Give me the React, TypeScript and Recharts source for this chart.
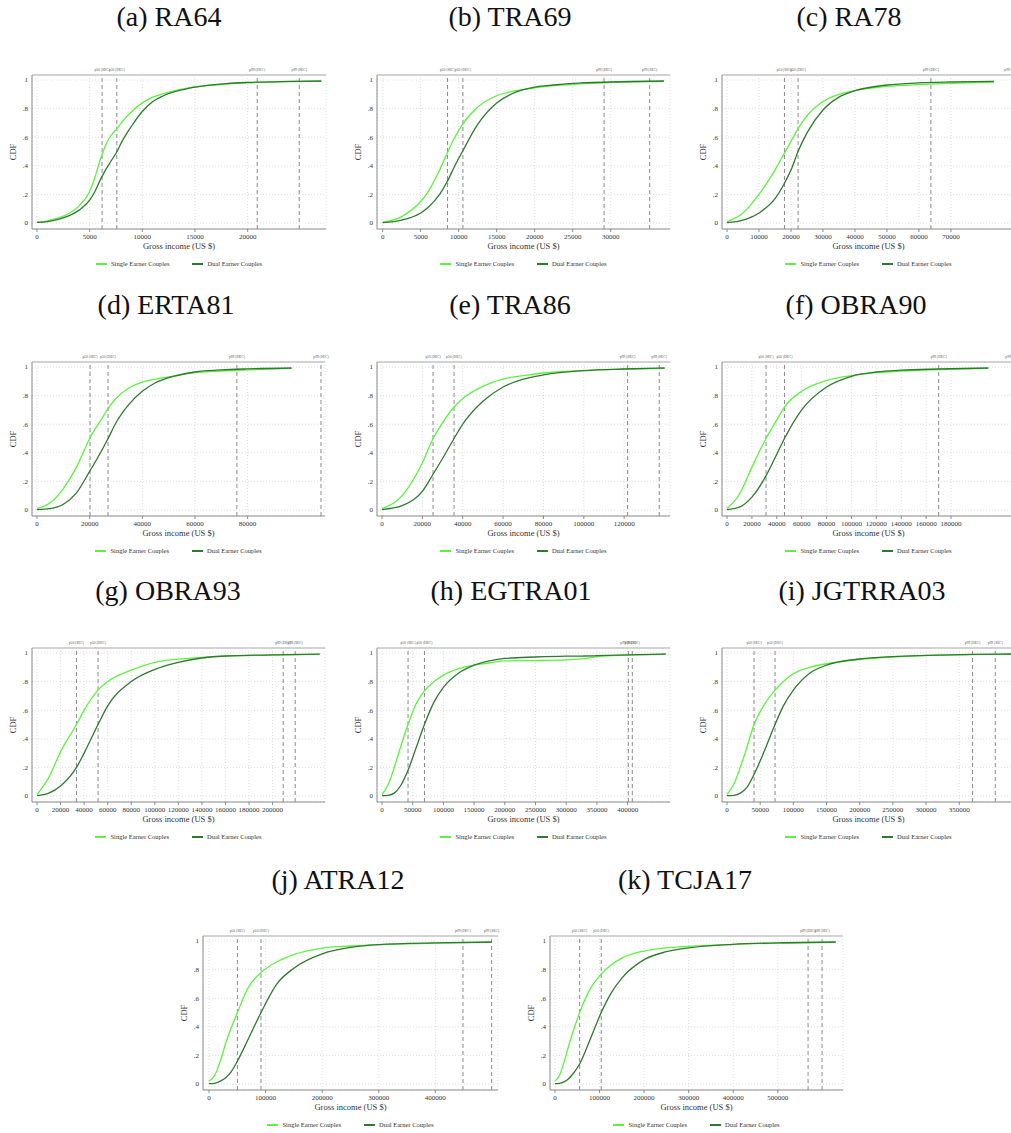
import React from 'react';
import { LineChart, Line, XAxis, YAxis, CartesianGrid, ReferenceLine } from 'recharts';

const cdfTicks = [0, 0.2, 0.4, 0.6, 0.8, 1];
const cdfTickLabels = ['0', '.2', '.4', '.6', '.8', '1'];
const refLabels = ['p50 (SEC)', 'p50 (DEC)', 'p99 (DEC)', 'p99 (SEC)'];
const seriesNames = ['Single Earner Couples', 'Dual Earner Couples'];

// (a) RA64
const ra64Income = [0, 1000, 2000, 3000, 4000, 5000, 5500, 6000, 6500, 7000, 7600, 8000, 9000, 10000, 11000, 12000, 14000, 16000, 18000, 20000, 24000, 27000];
const ra64Single = [0.005, 0.015, 0.035, 0.065, 0.12, 0.22, 0.32, 0.44, 0.54, 0.61, 0.66, 0.7, 0.78, 0.84, 0.88, 0.905, 0.94, 0.96, 0.972, 0.98, 0.988, 0.99];
const ra64Dual = [0.005, 0.01, 0.025, 0.05, 0.09, 0.16, 0.22, 0.3, 0.37, 0.43, 0.5, 0.56, 0.68, 0.78, 0.85, 0.89, 0.935, 0.96, 0.975, 0.983, 0.99, 0.993];
const ra64Ticks = [0, 5000, 10000, 15000, 20000];
const ra64Refs = [6180, 7580, 20910, 24900];

// (b) TRA69
const tra69Income = [0, 2500, 5000, 6000, 7500, 8500, 9500, 10500, 12500, 15000, 17500, 20000, 22500, 25000, 30000, 37000];
const tra69Single = [0.005, 0.045, 0.15, 0.22, 0.37, 0.49, 0.6, 0.69, 0.81, 0.89, 0.925, 0.945, 0.96, 0.97, 0.982, 0.99];
const tra69Dual = [0.003, 0.02, 0.07, 0.11, 0.2, 0.29, 0.4, 0.5, 0.69, 0.84, 0.915, 0.95, 0.965, 0.976, 0.986, 0.993];
const tra69Ticks = [0, 5000, 10000, 15000, 20000, 25000, 30000];
const tra69Refs = [8540, 10560, 29130, 35130];

// (c) RA78
const ra78Income = [0, 5000, 10000, 15000, 18000, 20000, 22200, 25000, 30000, 35000, 40000, 50000, 60000, 70000, 83500];
const ra78Single = [0.01, 0.07, 0.2, 0.37, 0.49, 0.57, 0.66, 0.75, 0.85, 0.9, 0.925, 0.955, 0.968, 0.976, 0.985];
const ra78Dual = [0.003, 0.02, 0.07, 0.17, 0.28, 0.37, 0.5, 0.63, 0.79, 0.88, 0.925, 0.965, 0.98, 0.986, 0.99];
const ra78Ticks = [0, 10000, 20000, 30000, 40000, 50000, 60000, 70000];
const ra78Refs = [17960, 22220, 63730, 89080];

// (d) ERTA81
const erta81Income = [0, 5000, 10000, 15000, 20000, 25000, 27000, 30000, 35000, 40000, 45000, 50000, 60000, 70000, 80000, 96700];
const erta81Single = [0.01, 0.05, 0.15, 0.3, 0.5, 0.65, 0.71, 0.78, 0.855, 0.895, 0.915, 0.93, 0.96, 0.972, 0.98, 0.99];
const erta81Dual = [0.003, 0.01, 0.04, 0.12, 0.27, 0.43, 0.5, 0.61, 0.74, 0.83, 0.89, 0.925, 0.965, 0.98, 0.987, 0.993];
const erta81Ticks = [0, 20000, 40000, 60000, 80000];
const erta81Refs = [20150, 26990, 75930, 107870];

// (e) TRA86
const tra86Income = [0, 10000, 20000, 25300, 30000, 35700, 40000, 50000, 60000, 70000, 80000, 100000, 120000, 140000];
const tra86Single = [0.01, 0.1, 0.33, 0.5, 0.61, 0.72, 0.78, 0.865, 0.915, 0.94, 0.958, 0.975, 0.985, 0.99];
const tra86Dual = [0.003, 0.03, 0.13, 0.25, 0.36, 0.5, 0.6, 0.76, 0.86, 0.915, 0.945, 0.975, 0.986, 0.993];
const tra86Ticks = [0, 20000, 40000, 60000, 80000, 100000, 120000];
const tra86Refs = [25290, 35700, 121700, 137370];

// (f) OBRA90
const obra90Income = [0, 10000, 20000, 31400, 40000, 46200, 60000, 80000, 100000, 120000, 140000, 170000, 210000];
const obra90Single = [0.01, 0.11, 0.3, 0.5, 0.63, 0.72, 0.83, 0.905, 0.94, 0.96, 0.972, 0.982, 0.99];
const obra90Dual = [0.003, 0.02, 0.09, 0.24, 0.39, 0.5, 0.7, 0.86, 0.935, 0.965, 0.978, 0.986, 0.993];
const obra90Ticks = [0, 20000, 40000, 60000, 80000, 100000, 120000, 140000, 160000, 180000];
const obra90Refs = [31370, 46170, 170060, 229800];

// (g) OBRA93
const obra93Income = [0, 10000, 20000, 33500, 40000, 51800, 60000, 80000, 100000, 120000, 140000, 160000, 200000, 240000];
const obra93Single = [0.01, 0.13, 0.31, 0.5, 0.6, 0.74, 0.8, 0.88, 0.935, 0.957, 0.97, 0.978, 0.985, 0.99];
const obra93Dual = [0.003, 0.02, 0.07, 0.2, 0.3, 0.5, 0.63, 0.8, 0.885, 0.935, 0.965, 0.979, 0.987, 0.993];
const obra93Ticks = [0, 20000, 40000, 60000, 80000, 100000, 120000, 140000, 160000, 180000, 200000];
const obra93Refs = [33470, 51830, 209000, 219200];

// (h) EGTRA01
const egtra01Income = [0, 10000, 20000, 30000, 42400, 55000, 69100, 85000, 100000, 125000, 150000, 175000, 200000, 250000, 300000, 330000, 350000, 400000, 462000];
const egtra01Single = [0.01, 0.08, 0.2, 0.34, 0.5, 0.64, 0.735, 0.8, 0.845, 0.89, 0.915, 0.93, 0.945, 0.947, 0.952, 0.96, 0.975, 0.985, 0.99];
const egtra01Dual = [0.003, 0.005, 0.02, 0.07, 0.18, 0.33, 0.5, 0.66, 0.76, 0.86, 0.915, 0.945, 0.962, 0.972, 0.978, 0.979, 0.981, 0.987, 0.993];
const egtra01Ticks = [0, 50000, 100000, 150000, 200000, 250000, 300000, 350000, 400000];
const egtra01Refs = [42390, 69130, 401100, 407600];

// (i) JGTRRA03
const jgtrra03Income = [0, 10000, 20000, 30000, 40700, 55000, 72400, 85000, 100000, 125000, 150000, 200000, 250000, 300000, 370000, 430000];
const jgtrra03Single = [0.01, 0.08, 0.2, 0.34, 0.5, 0.63, 0.74, 0.8, 0.855, 0.9, 0.925, 0.955, 0.972, 0.982, 0.988, 0.992];
const jgtrra03Dual = [0.003, 0.005, 0.02, 0.06, 0.15, 0.3, 0.5, 0.63, 0.74, 0.86, 0.915, 0.958, 0.975, 0.983, 0.99, 0.993];
const jgtrra03Ticks = [0, 50000, 100000, 150000, 200000, 250000, 300000, 350000];
const jgtrra03Refs = [40730, 72420, 370200, 404400];

// (j) ATRA12
const atra12Income = [0, 10000, 20000, 30000, 40000, 50200, 70000, 91900, 120000, 150000, 200000, 250000, 300000, 400000, 500000];
const atra12Single = [0.02, 0.06, 0.16, 0.29, 0.4, 0.5, 0.68, 0.78, 0.855, 0.905, 0.95, 0.965, 0.975, 0.985, 0.99];
const atra12Dual = [0.003, 0.005, 0.02, 0.045, 0.09, 0.16, 0.32, 0.5, 0.7, 0.81, 0.91, 0.955, 0.975, 0.987, 0.993];
const atra12Ticks = [0, 100000, 200000, 300000, 400000];
const atra12Refs = [50180, 91870, 448800, 499500];

// (k) TCJA17
const tcja17Income = [0, 10000, 20000, 30000, 40000, 55400, 80000, 103800, 125000, 150000, 200000, 250000, 300000, 400000, 500000, 630000];
const tcja17Single = [0.02, 0.06, 0.15, 0.26, 0.36, 0.5, 0.67, 0.77, 0.83, 0.88, 0.93, 0.952, 0.963, 0.977, 0.985, 0.99];
const tcja17Dual = [0.003, 0.005, 0.015, 0.035, 0.07, 0.14, 0.32, 0.5, 0.63, 0.74, 0.87, 0.925, 0.952, 0.977, 0.987, 0.993];
const tcja17Ticks = [0, 100000, 200000, 300000, 400000, 500000];
const tcja17Refs = [55380, 103800, 568000, 599400];

const SINGLE_COLOR = '#5cf23f';
const DUAL_COLOR = '#2f7a2f';
const FONT = '"Liberation Serif", "Times New Roman", serif';
const Y_AXIS_W = 28;
const TOP_M = 16;
const PLOT_H = 154;
const X_AXIS_H = 20;
const BOTTOM_M = 5;
const Y_DOMAIN: [number, number] = [-0.042, 1.035];

const panels = [
  { title: '(a) RA64', titleX: 169, titleY: 17, left: 32, top: 75, width: 294, domain: [-475, 27440], income: ra64Income, single: ra64Single, dual: ra64Dual, ticks: ra64Ticks, refs: ra64Refs },
  { title: '(b) TRA69', titleX: 510, titleY: 17, left: 377, top: 75, width: 293, domain: [-740, 37800], income: tra69Income, single: tra69Single, dual: tra69Dual, ticks: tra69Ticks, refs: tra69Refs },
  { title: '(c) RA78', titleX: 849, titleY: 17, left: 722, top: 75, width: 293, domain: [-1565, 90020], income: ra78Income, single: ra78Single, dual: ra78Dual, ticks: ra78Ticks, refs: ra78Refs },
  { title: '(d) ERTA81', titleX: 166, titleY: 305, left: 32, top: 362, width: 293, domain: [-1900, 109400], income: erta81Income, single: erta81Single, dual: erta81Dual, ticks: erta81Ticks, refs: erta81Refs },
  { title: '(e) TRA86', titleX: 510, titleY: 305, left: 377, top: 362, width: 293, domain: [-2480, 142700], income: tra86Income, single: tra86Single, dual: tra86Dual, ticks: tra86Ticks, refs: tra86Refs },
  { title: '(f) OBRA90', titleX: 856, titleY: 305, left: 722, top: 362, width: 293, domain: [-4020, 231400], income: obra90Income, single: obra90Single, dual: obra90Dual, ticks: obra90Ticks, refs: obra90Refs },
  { title: '(g) OBRA93', titleX: 168, titleY: 591, left: 32, top: 648, width: 293, domain: [-4250, 244500], income: obra93Income, single: obra93Single, dual: obra93Dual, ticks: obra93Ticks, refs: obra93Refs },
  { title: '(h) EGTRA01', titleX: 511, titleY: 591, left: 377, top: 648, width: 293, domain: [-8150, 469000], income: egtra01Income, single: egtra01Single, dual: egtra01Dual, ticks: egtra01Ticks, refs: egtra01Refs },
  { title: '(i) JGTRRA03', titleX: 862, titleY: 591, left: 722, top: 648, width: 293, domain: [-7545, 434100], income: jgtrra03Income, single: jgtrra03Single, dual: jgtrra03Dual, ticks: jgtrra03Ticks, refs: jgtrra03Refs },
  { title: '(j) ATRA12', titleX: 338, titleY: 880, left: 203, top: 936, width: 295, domain: [-10600, 510700], income: atra12Income, single: atra12Single, dual: atra12Dual, ticks: atra12Ticks, refs: atra12Refs },
  { title: '(k) TCJA17', titleX: 685, titleY: 880, left: 550, top: 936, width: 293, domain: [-11200, 646400], income: tcja17Income, single: tcja17Single, dual: tcja17Dual, ticks: tcja17Ticks, refs: tcja17Refs },
];

type PanelCfg = (typeof panels)[number];

function LegendRow({ width }: { width: number }) {
  const item = (name: string, color: string) => (
    <span style={{ display: 'inline-flex', alignItems: 'center' }}>
      <span style={{ display: 'inline-block', width: 11, height: 1.6, background: color, marginRight: 4 }} />
      {name}
    </span>
  );
  return (
    <div
      style={{
        position: 'absolute',
        left: Y_AXIS_W,
        top: TOP_M + PLOT_H + 31,
        width,
        display: 'flex',
        justifyContent: 'center',
        gap: 23,
        fontFamily: FONT,
        fontSize: 6.5,
        lineHeight: '8px',
        color: '#333',
        whiteSpace: 'nowrap',
      }}
    >
      {item(seriesNames[0], SINGLE_COLOR)}
      {item(seriesNames[1], DUAL_COLOR)}
    </div>
  );
}

function Panel({ cfg }: { cfg: PanelCfg }) {
  const data = cfg.income.map((x, i) => ({ income: x, single: cfg.single[i], dual: cfg.dual[i] }));
  const w = cfg.width + Y_AXIS_W;
  const h = TOP_M + PLOT_H + X_AXIS_H + BOTTOM_M;
  return (
    <>
      <div
        style={{
          position: 'absolute',
          left: cfg.titleX - 150,
          top: cfg.titleY - 17,
          width: 300,
          textAlign: 'center',
          fontFamily: FONT,
          fontSize: 28,
          lineHeight: '34px',
          color: '#111',
        }}
      >
        {cfg.title}
      </div>
      <div style={{ position: 'absolute', left: cfg.left - Y_AXIS_W, top: cfg.top - TOP_M, width: w, height: h + 40 }}>
        <LineChart width={w} height={h} data={data} margin={{ top: TOP_M, right: 0, bottom: BOTTOM_M, left: 0 }}>
          <CartesianGrid stroke="#dedede" strokeDasharray="1 2" />
          <XAxis
            dataKey="income"
            type="number"
            domain={cfg.domain}
            ticks={cfg.ticks}
            interval={0}
            allowDataOverflow
            height={X_AXIS_H}
            tickSize={3}
            tickMargin={2}
            stroke="#8c8c8c"
            tick={{ fontSize: 7, fill: '#333', fontFamily: FONT }}
            tickFormatter={(v) => String(v)}
            label={{ value: 'Gross income (US $)', position: 'insideBottom', offset: 0, fontSize: 8.5, fill: '#333', fontFamily: FONT }}
          />
          <YAxis
            type="number"
            domain={Y_DOMAIN}
            ticks={cdfTicks}
            interval={0}
            allowDataOverflow
            width={Y_AXIS_W}
            tickLine={false}
            tickSize={0}
            tickMargin={4}
            stroke="#8c8c8c"
            tick={{ fontSize: 7, fill: '#333', fontFamily: FONT }}
            tickFormatter={(v) => cdfTickLabels[cdfTicks.indexOf(v)] ?? String(v)}
            label={{ value: 'CDF', angle: -90, position: 'insideLeft', offset: 9, fontSize: 8.5, fill: '#333', fontFamily: FONT, style: { textAnchor: 'middle' } }}
          />
          <ReferenceLine y={Y_DOMAIN[1]} stroke="#d2d2d2" strokeWidth={2} />
          {cfg.refs.map((x, i) => (
            <ReferenceLine
              key={i}
              x={x}
              stroke="#8a8a8a"
              strokeDasharray="4 3"
              label={{ value: refLabels[i], position: 'top', offset: 4, fontSize: 3.6, fill: '#555', fontFamily: FONT }}
            />
          ))}
          <Line type="monotone" dataKey="single" name={seriesNames[0]} stroke={SINGLE_COLOR} strokeWidth={1.3} dot={false} isAnimationActive={false} />
          <Line type="monotone" dataKey="dual" name={seriesNames[1]} stroke={DUAL_COLOR} strokeWidth={1.3} dot={false} isAnimationActive={false} />
        </LineChart>
        <LegendRow width={cfg.width} />
      </div>
    </>
  );
}

export default function App() {
  return (
    <div
      style={{
        position: 'absolute',
        left: 0,
        top: 0,
        width: 1011,
        height: 1133,
        overflow: 'hidden',
        background: '#fff',
      }}
    >
      <style>{'.recharts-surface { overflow: visible; }'}</style>
      {panels.map((p) => (
        <Panel key={p.title} cfg={p} />
      ))}
    </div>
  );
}
